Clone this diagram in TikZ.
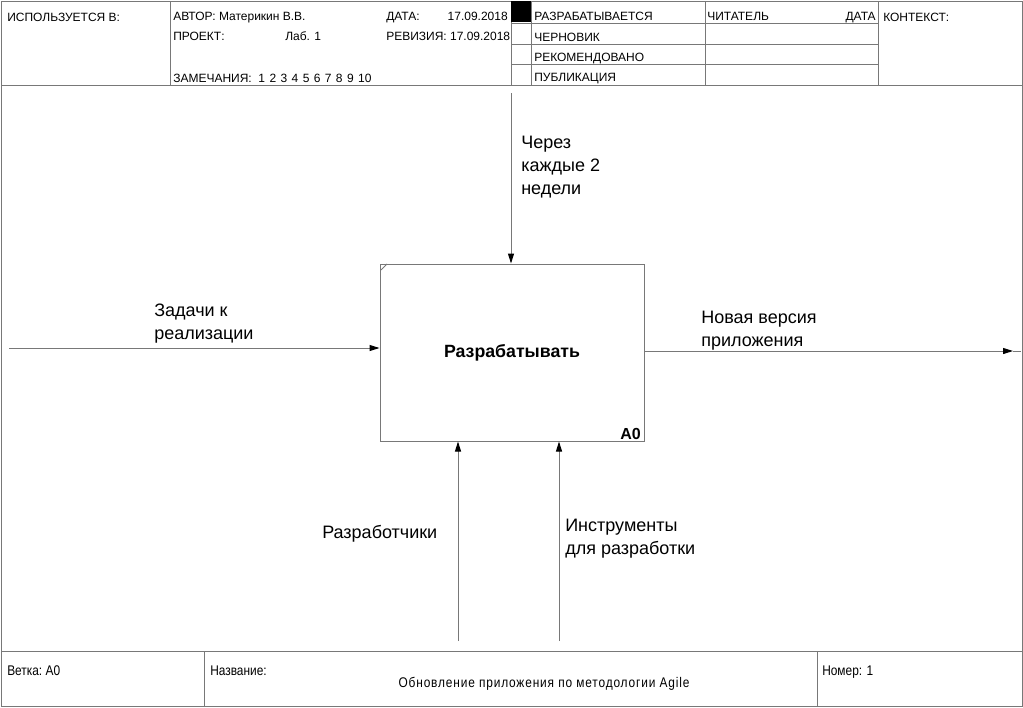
\documentclass[tikz,border=0pt]{standalone}
\usepackage{fontspec}
\setmainfont{Liberation Sans}
\newfontfamily\narrowfont[FakeStretch=0.85]{Liberation Sans}
\newfontfamily\titlefont[FakeStretch=0.85,LetterSpace=6]{Liberation Sans}
\usetikzlibrary{arrows.meta}
\definecolor{frame}{RGB}{120,120,120}
\newcommand{\nsp}{\hspace{3.3pt}}
\begin{document}
\begin{tikzpicture}[x=0.75pt,y=-0.75pt,
  rule/.style={draw=frame,line width=0.75pt},
  hdr/.style={anchor=base west,inner sep=0pt,font=\fontsize{9}{10}\selectfont},
  hdrr/.style={anchor=base east,inner sep=0pt,font=\fontsize{9}{10}\selectfont},
  ftr/.style={anchor=base west,inner sep=0pt,font=\narrowfont\fontsize{10.5}{12}\selectfont},
  lbl/.style={anchor=base west,inner sep=0pt,align=left,font=\fontsize{13.5}{17}\selectfont},
  arr/.style={draw=frame,line width=0.75pt,-{Triangle[length=7.5pt,width=4.5pt,black]}},
  funcbox/.style={draw=frame,line width=0.75pt,minimum width=198pt,minimum height=132.75pt,inner sep=0pt}]
\useasboundingbox (0,0) rectangle (1023,707);

% outer frame and header/footer separators
\draw[rule] (1,1) rectangle (1022,706);
\draw[rule] (1,85) -- (1022,85);
\draw[rule] (1,651) -- (1022,651);

% header columns
\draw[rule] (170,1) -- (170,85);
\draw[rule] (511,1) -- (511,85);
\draw[rule] (531,1) -- (531,85);
\draw[rule] (705,1) -- (705,85);
\draw[rule] (878,1) -- (878,85);
\foreach \yy in {23,44,64} \draw[rule] (511,\yy) -- (878,\yy);
\fill[black] (511,1) rectangle (531,22);

% header texts
\node[hdr] (used) at (7,21) {ИСПОЛЬЗУЕТСЯ В:};
\node[hdr] (author) at (173,20) {АВТОР: Материкин В.В.};
\node[hdr] (datelbl) at (386,20) {ДАТА:};
\node[hdrr] (dateval) at (508,20) {17.09.2018};
\node[hdr] (proj) at (173,40) {ПРОЕКТ:};
\node[hdr] (projval) at (285,40) {Лаб. 1};
\node[hdr] (rev) at (386,40) {РЕВИЗИЯ: 17.09.2018};
\node[hdr] (notes) at (173,82) {ЗАМЕЧАНИЯ:\ \ 1\nsp 2\nsp 3\nsp 4\nsp 5\nsp 6\nsp 7\nsp 8\nsp 9\nsp 10};
\node[hdr] (st1) at (534,20) {РАЗРАБАТЫВАЕТСЯ};
\node[hdr] (st2) at (534,41) {ЧЕРНОВИК};
\node[hdr] (st3) at (534,61) {РЕКОМЕНДОВАНО};
\node[hdr] (st4) at (534,81) {ПУБЛИКАЦИЯ};
\node[hdr] (reader) at (707,20) {ЧИТАТЕЛЬ};
\node[hdrr] (rdate) at (876,20) {ДАТА};
\node[hdr] (ctx) at (883,21) {КОНТЕКСТ:};

% footer
\draw[rule] (204,651) -- (204,706);
\draw[rule] (817,651) -- (817,706);
\node[ftr] (node) at (7,675) {Ветка:\ A0};
\node[ftr] (titlelbl) at (210,675) {Название:};
\node[anchor=base,inner sep=0pt,font=\titlefont\fontsize{10.5}{12}\selectfont] (title) at (544,687) {Обновление приложения по методологии Agile};
\node[ftr] (num) at (822,675) {Номер: 1};

% function box
\node[funcbox] (box) at (512,352.5) {};
\draw[frame,line width=0.6pt] (381,270) -- (387,264);
\node[anchor=base,inner sep=0pt,font=\bfseries\fontsize{13.3}{15}\selectfont] (fname) at (512,357) {Разрабатывать};
\node[anchor=base east,inner sep=0pt,font=\bfseries\fontsize{12}{14}\selectfont] (fnum) at (641,439) {A0};

% arrow ends
\coordinate (cin) at (511,93);
\coordinate (iin) at (9,348);
\coordinate (oout) at (1013,351);
\coordinate (oedge) at (1021,351);
\coordinate (m1) at (458,641);
\coordinate (m2) at (559,641);

% control, input, output, mechanisms
\draw[arr] (cin) -- (cin |- box.north);
\draw[arr] (iin) -- (iin -| box.west);
\draw[arr] (oout -| box.east) -- (oout);
\draw[rule] (oout) -- (oedge);
\draw[arr] (m1) -- (m1 |- box.south);
\draw[arr] (m2) -- (m2 |- box.south);

% arrow labels (base anchor sits on the last line)
\node[lbl] (lc) at (521,194) {Через\\каждые 2\\недели};
\node[lbl] (li) at (154,339) {Задачи к\\реализации};
\node[lbl] (lo) at (701,346) {Новая версия\\приложения};
\node[lbl] (lm1) at (322,538) {Разработчики};
\node[lbl] (lm2) at (565,554) {Инструменты\\для разработки};
\end{tikzpicture}
\end{document}
